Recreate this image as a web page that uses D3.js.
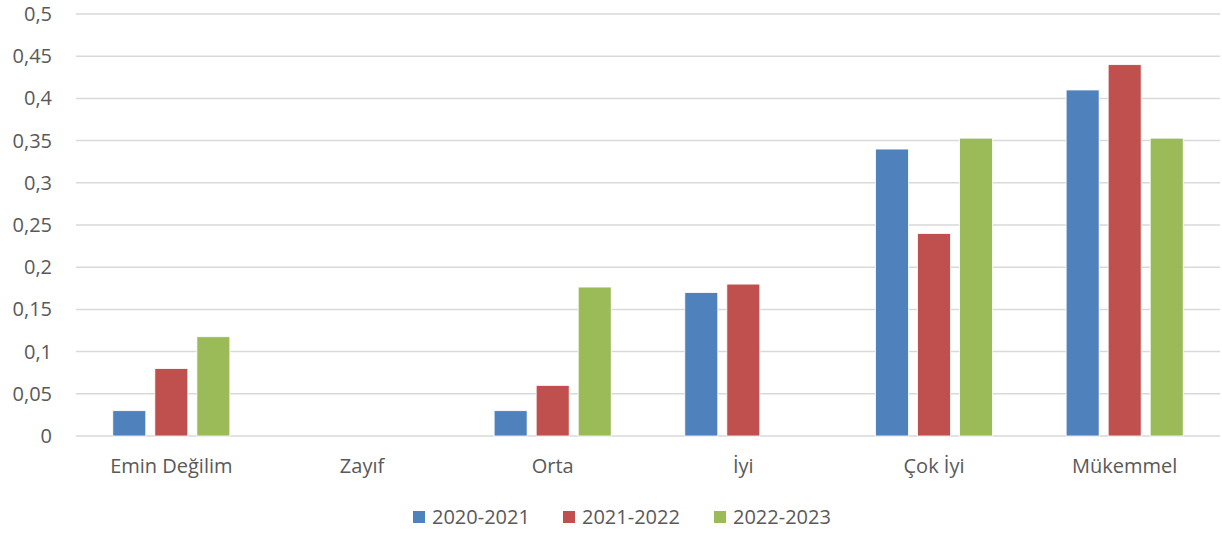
<!DOCTYPE html>
<html><head><meta charset="utf-8">
<script src="https://cdn.jsdelivr.net/npm/d3@7"></script>
<style>body{margin:0;background:#fff}svg{display:block}text{font-family:"Open Sans",Calibri,sans-serif;fill:#595959}</style>
</head><body>
<svg id="c" width="1222" height="540"></svg>
<script>
const categories = ["Emin Değilim","Zayıf","Orta","İyi","Çok İyi","Mükemmel"];
const seriesNames = ["2020-2021","2021-2022","2022-2023"];
const s2020 = [0.03,0,0.03,0.17,0.34,0.41];
const s2021 = [0.08,0,0.06,0.18,0.24,0.44];
const s2022 = [0.1176,0,0.1765,0,0.3529,0.3529];
const colors = ["#4f81bd","#c0504d","#9bbb59"];
const yTicks = [0,0.05,0.1,0.15,0.2,0.25,0.3,0.35,0.4,0.45,0.5];

const series = [s2020,s2021,s2022];
const svg = d3.select("#c");
const L=76,R=1220,T=14,B=436;
const FS="20px";
const x = d3.scaleBand().domain(categories).range([L,R]).paddingInner(0.386).paddingOuter(0.193);
const xs = d3.scaleBand().domain(seriesNames).range([0,x.bandwidth()]).paddingInner(0.215);
const y = d3.scaleLinear().domain([0,0.5]).range([B,T]);
const fmt = v => String(+v.toFixed(2)).replace(".",",");

const grid = svg.append("g");
grid.selectAll("line").data(yTicks).join("line")
  .attr("x1",L).attr("x2",R).attr("y1",d=>y(d)).attr("y2",d=>y(d))
  .attr("stroke","#d9d9d9").attr("stroke-width",1.5);

const yAxis = svg.append("g").attr("transform",`translate(${L},0)`)
  .call(d3.axisLeft(y).tickValues(yTicks).tickFormat(fmt).tickSize(0).tickPadding(24));
yAxis.select(".domain").remove();
yAxis.selectAll("text").style("font-size",FS).attr("fill","#595959");

const xAxis = svg.append("g").attr("transform",`translate(0,${B})`)
  .call(d3.axisBottom(x).tickSize(0).tickPadding(23));
xAxis.select(".domain").remove();
xAxis.selectAll("text").style("font-size",FS).attr("fill","#595959");

const groups = svg.append("g").selectAll("g").data(categories).join("g")
  .attr("transform",d=>`translate(${x(d)},0)`);
groups.selectAll("rect").data((d,i)=>series.map((s,j)=>({name:seriesNames[j],v:s[i],c:colors[j]})))
  .join("rect")
  .attr("x",d=>xs(d.name)).attr("width",xs.bandwidth())
  .attr("y",d=>y(d.v)).attr("height",d=>B-y(d.v))
  .attr("fill",d=>d.c).attr("stroke","#fff").attr("stroke-width",0.8);

const leg = svg.append("g");
const legX = [413,563,714];
seriesNames.forEach((n,i)=>{
  leg.append("rect").attr("x",legX[i]).attr("y",511).attr("width",12).attr("height",12).attr("fill",colors[i]);
  leg.append("text").attr("x",legX[i]+19).attr("y",524).style("font-size",FS).text(n);
});
</script>
</body></html>
